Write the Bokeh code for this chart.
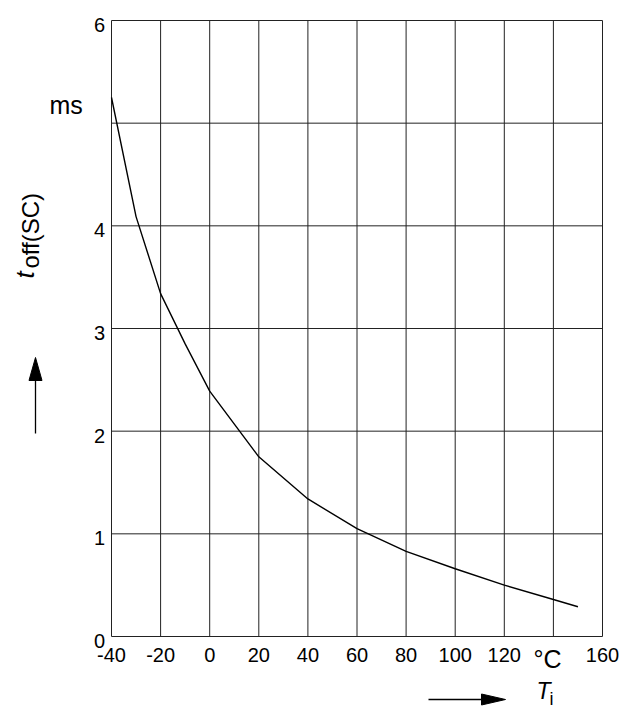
import math
from bokeh.plotting import figure
from bokeh.models import Range1d
from bokeh.core.properties import value
from bokeh.embed import file_html
from bokeh.resources import INLINE

# ---- data ----
temp_c = [-40, -30, -20, -10, 0, 20, 40, 60, 80, 100, 120, 140, 150]
t_off_ms = [5.25, 4.09, 3.34, 2.85, 2.39, 1.75, 1.34, 1.05, 0.83, 0.66, 0.50, 0.36, 0.29]

x_ticks = [-40, -20, 0, 20, 40, 60, 80, 100, 120, 140, 160]
y_ticks = [0, 1, 2, 3, 4, 5, 6]
x_tick_labels = ["-40", "-20", "0", "20", "40", "60", "80", "100", "120", "", "160"]
y_tick_labels = ["0", "1", "2", "3", "4", "", "6"]

X_MIN, X_MAX = -40, 160
Y_MIN, Y_MAX = 0, 6

# ---- layout: pixel box of the plotting area in the picture ----
FL, FT, FW, FH = 111, 20, 491, 616
CANVAS_W, CANVAS_H = 632, 709
FONT = "Liberation Sans"
GRID = "#222222"
BASE_FIX = 0.33   # baseline correction (fraction of font size)


def dx(px):
    return X_MIN + (px - FL) * (X_MAX - X_MIN) / FW


def dy(py):
    return Y_MIN + (FT + FH - py) * (Y_MAX - Y_MIN) / FH


PX_Y = (Y_MAX - Y_MIN) / FH   # data units per pixel (vertical)

p = figure(
    frame_width=CANVAS_W, frame_height=CANVAS_H,
    min_border=0, x_axis_type=None, y_axis_type=None,
    x_range=Range1d(dx(0), dx(CANVAS_W)), y_range=Range1d(dy(CANVAS_H), dy(0)),
    output_backend="svg", toolbar_location=None, title_location=None,
    background_fill_color="white", border_fill_color="white",
)
p.outline_line_color = None

# grid (outer lines form the frame)
p.segment(x0=x_ticks, y0=[Y_MIN] * len(x_ticks), x1=x_ticks, y1=[Y_MAX] * len(x_ticks),
          line_color=GRID, line_width=1)
p.segment(x0=[X_MIN] * len(y_ticks), y0=y_ticks, x1=[X_MAX] * len(y_ticks), y1=y_ticks,
          line_color=GRID, line_width=1)

# tick labels
TICK_SIZE = 20
p.text(x=x_ticks, y=[dy(661 - BASE_FIX * TICK_SIZE)] * len(x_ticks), text=x_tick_labels,
       text_font=value(FONT), text_font_size=value(f"{TICK_SIZE}px"), text_color="black",
       text_align="center", text_baseline="alphabetic")
p.text(x=[dx(104.5)] * len(y_ticks),
       y=[t - (11 - BASE_FIX * TICK_SIZE) * PX_Y for t in y_ticks], text=y_tick_labels,
       text_font=value(FONT), text_font_size=value(f"{TICK_SIZE}px"), text_color="black",
       text_align="right", text_baseline="alphabetic")

# curve
p.line(temp_c, t_off_ms, line_color="black", line_width=1.4)


# ---- texts ----
def add_text(text, px, py, size, style="normal", rotated=False):
    if rotated:
        px -= BASE_FIX * size
    else:
        py -= BASE_FIX * size
    p.text(x=[dx(px)], y=[dy(py)], text=[text], text_font=value(FONT),
           text_font_size=value(f"{size}px"), text_font_style=style,
           text_color="black", text_align="left", text_baseline="alphabetic",
           angle=math.pi / 2 if rotated else 0.0)


add_text("ms", 49, 113, 25)
add_text("°C", 533, 667, 25)
add_text("T", 536, 698, 23, "italic")
add_text("i", 549, 704, 18)
add_text("t", 33, 278, 26, "italic", rotated=True)
add_text("off(SC)", 38, 268, 24, "normal", rotated=True)


# ---- arrows (shaft + filled head) ----
def add_arrow(x0, y0, x1, y1, head_len, head_w):
    L = math.hypot(x1 - x0, y1 - y0)
    ux, uy = (x1 - x0) / L, (y1 - y0) / L
    bx, by = x1 - ux * head_len, y1 - uy * head_len
    nx, ny = -uy * head_w / 2, ux * head_w / 2
    p.segment(x0=[dx(x0)], y0=[dy(y0)], x1=[dx(bx)], y1=[dy(by)],
              line_color="black", line_width=1.3)
    p.patch(x=[dx(x1), dx(bx + nx), dx(bx - nx)], y=[dy(y1), dy(by + ny), dy(by - ny)],
            fill_color="black", line_color="black", line_width=1)


add_arrow(35, 433, 35, 357, 23, 13)
add_arrow(428, 699, 505, 699, 24, 11)

open("out.html", "w").write(file_html(p, INLINE))
